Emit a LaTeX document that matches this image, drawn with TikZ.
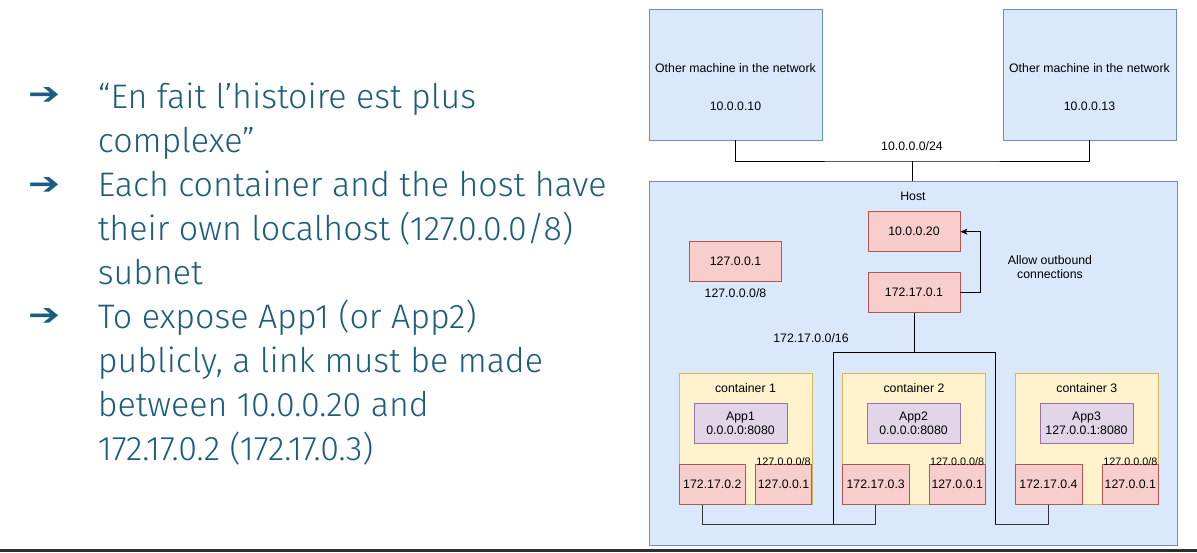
\documentclass[tikz,border=0pt]{standalone}
\usepackage{fontspec}
\setmainfont{Liberation Sans}
\newfontfamily\slidefont{Fira Sans}[UprightFont=* Light]
\newfontfamily\arrowfont{DejaVu Sans}[UprightFont=* Bold]
\usetikzlibrary{arrows.meta}
\definecolor{bfill}{HTML}{DAE8FC}
\definecolor{bline}{HTML}{6C8EBF}
\definecolor{rfill}{HTML}{F8CECC}
\definecolor{rline}{HTML}{B85450}
\definecolor{yfill}{HTML}{FFF2CC}
\definecolor{yline}{HTML}{D6B656}
\definecolor{pfill}{HTML}{E1D5E7}
\definecolor{pline}{HTML}{9673A6}
\definecolor{slideblue}{RGB}{28,92,128}
\definecolor{barcol}{HTML}{2E2E2E}
\newcommand{\bulletglyph}{\resizebox{32pt}{17pt}{\arrowfont ➔}}
\tikzset{
  dfont/.style={font=\fontsize{12.3}{14}\selectfont},
  sfont/.style={font=\fontsize{10.8}{12}\selectfont},
  bluebox/.style={draw=bline, fill=bfill, line width=0.9pt, inner sep=0pt},
  redbox/.style={draw=rline, fill=rfill, line width=0.9pt, inner sep=0pt, minimum height=40pt, dfont},
  ybox/.style={draw=yline, fill=yfill, line width=0.9pt, inner sep=0pt, minimum height=131pt},
  appbox/.style={draw=pline, fill=pfill, line width=0.9pt, inner sep=0pt, minimum width=93pt, minimum height=40pt, dfont, align=center},
  lbl/.style={inner sep=0pt, dfont, align=center},
  wire/.style={draw=black, line width=0.9pt},
  lowire/.style={draw=black!80, line width=1.1pt},
  bulletarrow/.style={inner sep=0pt, text=slideblue},
  bullettext/.style={inner sep=0pt, anchor=base west, text=slideblue, font=\slidefont\fontsize{34}{44}\selectfont}
}
\begin{document}
\begin{tikzpicture}[x=1pt,y=-1pt]
\useasboundingbox (0,0) rectangle (1197,552);
\fill[white] (0,0) rectangle (1197,552);
\fill[barcol] (0,549) rectangle (1197,552);

% left slide text
\node[bulletarrow] (a1) at (44.5,95.5) {\bulletglyph};
\node[bulletarrow] (a2) at (44.5,185.5) {\bulletglyph};
\node[bulletarrow] (a3) at (44.5,317) {\bulletglyph};
\node[bullettext] (t1a) at (97.7,108) {“En fait l’histoire est plus};
\node[bullettext] (t1b) at (97.7,152) {complexe”};
\node[bullettext] (t2a) at (97.7,196.5) {Each container and the host have};
\node[bullettext] (t2b) at (97.7,240.5) {their own localhost (127.0.0.0/8)};
\node[bullettext] (t2c) at (97.7,284.5) {subnet};
\node[bullettext] (t3a) at (97.7,328.5) {To expose App1 (or App2)};
\node[bullettext] (t3b) at (97.7,372.5) {publicly, a link must be made};
\node[bullettext] (t3c) at (97.7,416.5) {between 10.0.0.20 and};
\node[bullettext] (t3d) at (97.7,460.5) {172.17.0.2 (172.17.0.3)};

% other machines
\node[bluebox, minimum width=173pt, minimum height=131pt] (m1) at (735.5,74.5) {};
\node[bluebox, minimum width=173pt, minimum height=131pt] (m2) at (1089.5,74.5) {};
\node[lbl] (m1a) at (735.5,68) {Other machine in the network};
\node[lbl] (m1b) at (735.5,106) {10.0.0.10};
\node[lbl] (m2a) at (1089.5,68) {Other machine in the network};
\node[lbl] (m2b) at (1089.5,106) {10.0.0.13};

% host
\node[bluebox, minimum width=528pt, minimum height=364pt] (host) at (913,363) {};
\node[lbl] (hostl) at (913,196) {Host};

% network bus
\coordinate (nb) at (912,161);
\node[lbl] (netl) at (912,146) {10.0.0.0/24};
\draw[wire] (m1.south) |- (nb) -| (m2.south);
\draw[wire] (nb) -- (nb |- host.north);

% host interfaces
\node[redbox, minimum width=92pt] (n20) at (914,231.7) {10.0.0.20};
\node[redbox, minimum width=92pt] (n1) at (914,292.7) {172.17.0.1};
\node[redbox, minimum width=92pt] (hlo) at (735.5,261.7) {127.0.0.1};
\node[lbl] (hlol) at (735.5,293) {127.0.0.0/8};
\coordinate (bend) at (980,292.7);
\draw[wire, -{Stealth[length=7pt,width=6pt,inset=2pt]}] (n1.east) -- (bend) |- (n20.east);
\node[lbl] (allow) at (1050,267) {Allow outbound\\connections};

% docker bus
\node[lbl] (dbl) at (811,338) {172.17.0.0/16};
\coordinate (bus) at (914,352.7);
\coordinate (busl) at (833,352.7);
\coordinate (busr) at (995,352.7);
\coordinate (busld) at (833,524.3);
\coordinate (busrd) at (995,524.3);

% containers
\node[ybox, minimum width=133pt] (c1) at (745.5,438.8) {};
\node[ybox, minimum width=143pt] (c2) at (914,438.8) {};
\node[ybox, minimum width=143.6pt] (c3) at (1086.8,438.8) {};
\node[lbl] (c1l) at (745.5,387.7) {container 1};
\node[lbl] (c2l) at (914,387.7) {container 2};
\node[lbl] (c3l) at (1086.8,387.7) {container 3};

\node[appbox] (app1) at (740.5,423.3) {App1\\0.0.0.0:8080};
\node[appbox] (app2) at (913.5,423.3) {App2\\0.0.0.0:8080};
\node[appbox] (app3) at (1086.5,423.3) {App3\\127.0.0.1:8080};

\node[redbox, minimum width=66.7pt] (ip2) at (712.3,484.3) {172.17.0.2};
\node[redbox, minimum width=56.4pt] (lo1) at (783.5,484.3) {127.0.0.1};
\node[redbox, minimum width=66.5pt] (ip3) at (875.7,484.3) {172.17.0.3};
\node[redbox, minimum width=56.4pt] (lo2) at (957.2,484.3) {127.0.0.1};
\node[redbox, minimum width=67pt] (ip4) at (1048.5,484.3) {172.17.0.4};
\node[redbox, minimum width=56.6pt] (lo3) at (1130.3,484.3) {127.0.0.1};

\node[inner sep=0pt, sfont, anchor=base] (lo1l) at ([yshift=-2pt]lo1.north) {127.0.0.0/8};
\node[inner sep=0pt, sfont, anchor=base] (lo2l) at ([yshift=-2pt]lo2.north) {127.0.0.0/8};
\node[inner sep=0pt, sfont, anchor=base] (lo3l) at ([yshift=-2pt]lo3.north) {127.0.0.0/8};

% wires
\draw[wire] (n1.south) -- (bus);
\draw[wire] (busld) -- (busl) -- (busr) -- (busrd);
\coordinate (ip2d) at ([xshift=-9.5pt]ip2.south);
\draw[lowire] (ip2d) -- (ip2d |- busld) -| (ip3.south);
\draw[lowire] (busrd) -| (ip4.south);
\end{tikzpicture}
\end{document}
